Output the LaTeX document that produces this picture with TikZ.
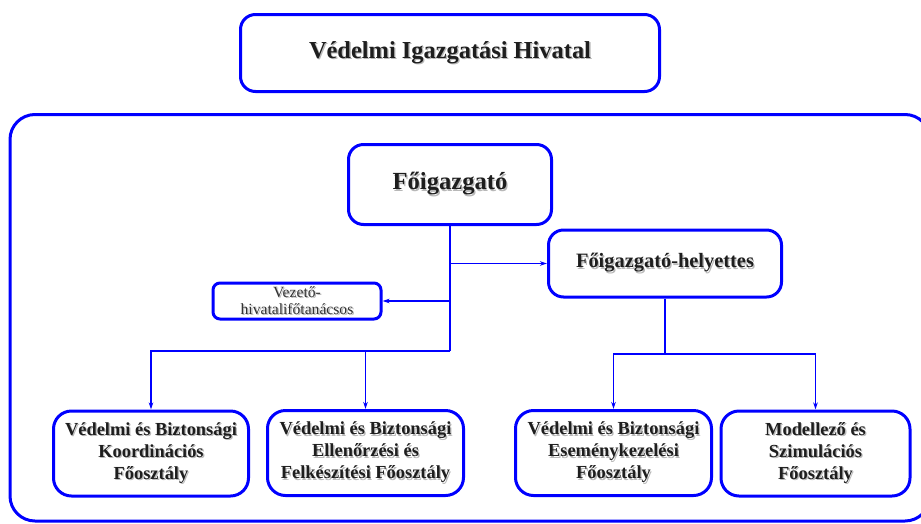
\documentclass[tikz,border=0pt]{standalone}
\usepackage{fontspec}
\setmainfont{Liberation Serif}
\usetikzlibrary{arrows.meta}
\definecolor{bblue}{RGB}{0,0,255}
\definecolor{txt}{RGB}{30,30,30}
\newcommand\shd[1]{\leavevmode\rlap{\kern1.3pt\raisebox{-1.3pt}{\textcolor{black!28}{#1}}}#1}
\begin{document}
\begin{tikzpicture}[x=1pt,y=-1pt,
  box/.style={draw=bblue,line width=3pt,rounded corners=15pt,align=center,text=txt,inner sep=0pt,font=\bfseries},
  unitbox/.style={box,rounded corners=18pt,minimum height=85pt,font=\bfseries\fontsize{18.4}{22}\selectfont},
  mainline/.style={draw=bblue,line width=2pt},
  conn/.style={draw=bblue,line width=1.4pt,-{Stealth[length=7pt,width=4.5pt,inset=2pt]}},
  plain/.style={draw=bblue,line width=1.4pt}]
\useasboundingbox (0,0) rectangle (921,523);
% outer container
\draw[bblue,line width=3pt,rounded corners=25pt] (10,114.5) rectangle (930,521);
% nodes
\node[box,minimum width=419pt,minimum height=77pt,font=\bfseries\fontsize{24.4}{28}\selectfont] (vih) at (450,53) {\shd{Védelmi Igazgatási Hivatal}};
\node[box,minimum width=203pt,minimum height=80pt,font=\bfseries\fontsize{24.6}{28}\selectfont] (fo) at (450,184.5) {\shd{Főigazgató}};
\node[box,minimum width=233pt,minimum height=67pt,font=\bfseries\fontsize{20.4}{24}\selectfont] (hely) at (665,263.5) {\shd{Főigazgató-helyettes}};
\node[box,rounded corners=7pt,minimum width=168pt,minimum height=36pt,text=black!80,font=\fontsize{15.6}{17}\selectfont] (vez) at (297,301) {\shd{Vezető-}\\\shd{hivatalifőtanácsos}};
\node[unitbox,minimum width=195pt] (b1) at (151,453.5) {\shd{Védelmi és Biztonsági}\\\shd{Koordinációs}\\\shd{Főosztály}};
\node[unitbox,minimum width=196pt] (b2) at (365.5,453) {\shd{Védelmi és Biztonsági}\\\shd{Ellenőrzési és}\\\shd{Felkészítési Főosztály}};
\node[unitbox,minimum width=196pt] (b3) at (613.5,453) {\shd{Védelmi és Biztonsági}\\\shd{Eseménykezelési}\\\shd{Főosztály}};
\node[unitbox,minimum width=189pt] (b4) at (815.5,453.5) {\shd{Modellező és}\\\shd{Szimulációs}\\\shd{Főosztály}};
% junctions
\coordinate (j1) at (450,351);
\coordinate (j2) at (665,354);
% connectors
\draw[mainline] (fo.south) -- (j1);
\draw[conn] (fo.south |- hely.west) -- (hely.west);
\draw[conn] (fo.south |- vez.east) -- (vez.east);
\draw[conn] (j1) -| (b1.north);
\draw[conn] (b2.north |- j1) -- (b2.north);
\draw[plain] (hely.south) -- (j2);
\draw[conn] (j2) -| (b3.north);
\draw[conn] (j2) -| (b4.north);
\end{tikzpicture}
\end{document}
